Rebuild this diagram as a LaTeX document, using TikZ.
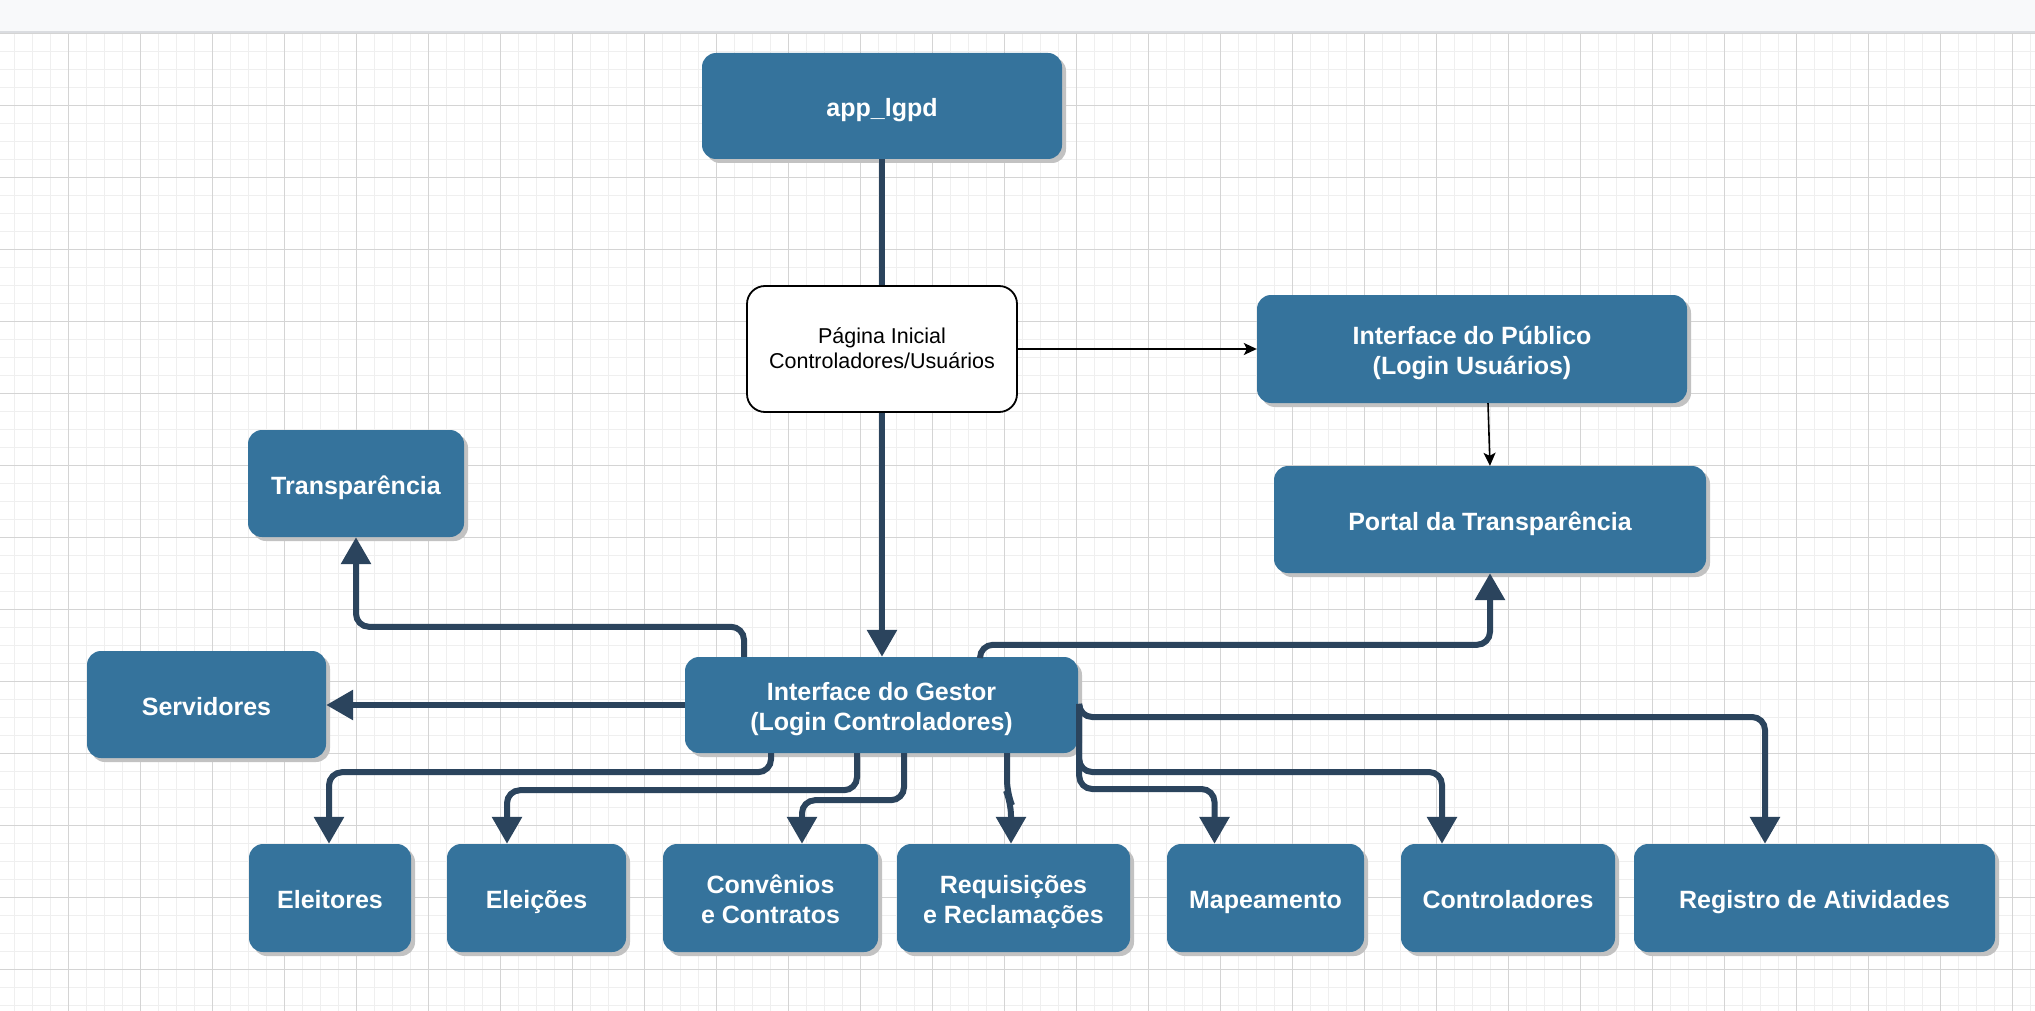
\documentclass[tikz,border=0pt]{standalone}
\usepackage{fontspec}
\setmainfont{Liberation Sans}
\usetikzlibrary{arrows.meta,shadows}
\definecolor{boxblue}{HTML}{35739C}
\definecolor{edgecol}{HTML}{2B445D}
\definecolor{gridminor}{HTML}{EFEFEF}
\definecolor{gridmajor}{HTML}{D4D4D4}
\definecolor{barfill}{HTML}{F8F9FA}
\definecolor{barline}{HTML}{DADCE0}
\definecolor{shadowgray}{HTML}{C2C2C2}
\newcommand\topstr{\rule{0pt}{27pt}}
\newcommand\botstr{\rule[-6pt]{0pt}{6pt}}
\tikzset{
  bluebox/.style={fill=boxblue, draw=none, rounded corners=14pt, text=white,
    font=\fontsize{25pt}{30pt}\selectfont\bfseries, align=center, inner sep=0pt,
    drop shadow={shadow xshift=4pt, shadow yshift=-4pt, fill=shadowgray, opacity=1}},
  whitebox/.style={fill=white, draw=black, line width=1.8pt, rounded corners=18pt,
    font=\fontsize{21.5pt}{24.7pt}\selectfont, align=center, inner sep=0pt},
  conn/.style={draw=edgecol, line width=6pt, rounded corners=13pt,
    -{Triangle[width=29pt,length=27pt]}},
  thinarrow/.style={draw=black, line width=1.6pt, -{Stealth[length=13pt,width=12pt,inset=3pt]}}
}
\begin{document}
\begin{tikzpicture}[x=1pt,y=-1pt]
\useasboundingbox (0,0) rectangle (2035,1011);
\fill[white] (0,0) rectangle (2035,1011);
% grid
\foreach \i in {0,...,113} \draw[gridminor, line width=1.5pt] ({-3.7+18*\i},33) -- ({-3.7+18*\i},1011);
\foreach \j in {0,...,54} \draw[gridminor, line width=1.5pt] (0,{33.3+18*\j}) -- (2035,{33.3+18*\j});
\foreach \i in {0,...,28} \draw[gridmajor, line width=1pt] ({-3.7+72*\i},33) -- ({-3.7+72*\i},1011);
\foreach \j in {0,...,13} \draw[gridmajor, line width=1pt] (0,{33.3+72*\j}) -- (2035,{33.3+72*\j});
% top bar
\fill[barfill] (0,0) rectangle (2035,31);
\draw[barline, line width=2pt] (0,32) -- (2035,32);

% nodes
\node[bluebox, minimum width=360pt, minimum height=106pt] (app) at (882,106) {\topstr app\_lgpd\botstr};
\node[bluebox, minimum width=430pt, minimum height=108pt] (publico) at (1472,349) {\topstr Interface do Público\\(Login Usuários)\botstr};
\node[bluebox, minimum width=432pt, minimum height=107pt] (portal) at (1490,519.5) {\topstr Portal da Transparência\botstr};
\node[bluebox, minimum width=216pt, minimum height=107pt] (transp) at (356,483.5) {\topstr Transparência\botstr};
\node[bluebox, minimum width=239pt, minimum height=107pt] (servidores) at (206.5,704.5) {\topstr Servidores\botstr};
\node[bluebox, minimum width=393pt, minimum height=96pt] (gestor) at (881.5,705) {\topstr Interface do Gestor\\(Login Controladores)\botstr};
\node[bluebox, minimum width=162pt, minimum height=108pt] (eleitores) at (330,898) {\topstr Eleitores\botstr};
\node[bluebox, minimum width=179pt, minimum height=108pt] (eleicoes) at (536.5,898) {\topstr Eleições\botstr};
\node[bluebox, minimum width=215pt, minimum height=108pt] (convenios) at (770.5,898) {\topstr Convênios\\e Contratos\botstr};
\node[bluebox, minimum width=233pt, minimum height=108pt] (requisicoes) at (1013.5,898) {\topstr Requisições\\e Reclamações\botstr};
\node[bluebox, minimum width=197pt, minimum height=108pt] (mapeamento) at (1265.5,898) {\topstr Mapeamento\botstr};
\node[bluebox, minimum width=214pt, minimum height=108pt] (controladores) at (1508,898) {\topstr Controladores\botstr};
\node[bluebox, minimum width=361pt, minimum height=108pt] (registro) at (1814.5,898) {\topstr Registro de Atividades\botstr};

% thick connectors
\draw[conn] (app.south) -- (app.south |- gestor.north);
\draw[conn] ([xshift=-137.5pt]gestor.north) -- ++(0,-30) -| (transp.south);
\draw[conn] ([xshift=98.5pt]gestor.north) -- ++(0,-12) -| (portal.south);
\draw[conn] (gestor.west) -- (gestor.west -| servidores.east);
\draw[conn] ([xshift=1pt]gestor.east) -- ++(0,12) -| ([xshift=-49.5pt]registro.north);
\draw[conn] ([xshift=1pt]gestor.east) -- ++(0,67) -| ([xshift=-66pt]controladores.north);
\draw[conn] ([xshift=1pt]gestor.east) -- ++(0,84) -| ([xshift=-51pt]mapeamento.north);
\draw[conn] ([xshift=125.5pt]gestor.south) -- ++(0,40) -- ([xshift=-2.5pt,yshift=41pt]requisicoes.north) -- ([xshift=-2.5pt]requisicoes.north);
\draw[conn] ([xshift=22.5pt]gestor.south) -- ++(0,47) -| ([xshift=31.5pt]convenios.north);
\draw[conn] ([xshift=-24.5pt]gestor.south) -- ++(0,37) -| ([xshift=-29.5pt]eleicoes.north);
\draw[conn] ([xshift=-110.5pt]gestor.south) -- ++(0,19) -| ([xshift=-1pt]eleitores.north);

% white start node over the trunk line
\node[whitebox, minimum width=270pt, minimum height=126pt] (pagina) at (882,349) {\rule{0pt}{19pt}Página Inicial\\Controladores/Usuários\rule[-5pt]{0pt}{5pt}};

% thin connectors
\draw[thinarrow] (pagina.east) -- (pagina.east -| publico.west);
\draw[thinarrow] ([xshift=16pt]publico.south) -- (portal.north);
\end{tikzpicture}
\end{document}
